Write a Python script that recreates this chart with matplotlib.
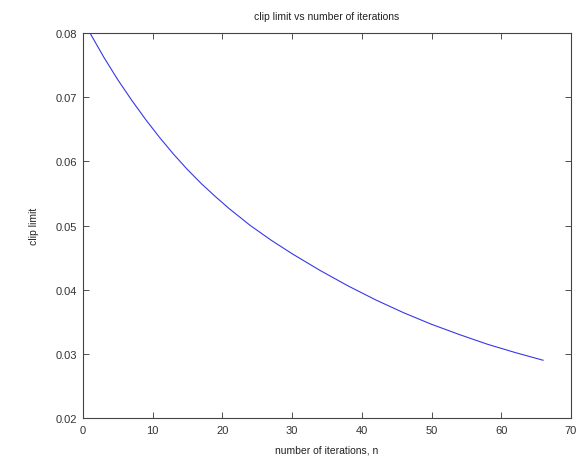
import matplotlib
matplotlib.use("Agg")
import matplotlib.pyplot as plt
from matplotlib.ticker import FormatStrFormatter

# clip limit at each iteration count
iterations = [1, 3, 5, 7, 9, 11, 13, 15, 17, 19, 21, 24, 27, 30, 34, 38, 42,
              46, 50, 54, 58, 62, 66]
clip_limit = [0.0800, 0.0762, 0.0727, 0.0695, 0.0665, 0.0637, 0.0611, 0.0587,
              0.0565, 0.0545, 0.0526, 0.0500, 0.0477, 0.0456, 0.0430, 0.0406,
              0.0384, 0.0364, 0.0346, 0.0330, 0.0315, 0.0302, 0.0290]

x_ticks = [0, 10, 20, 30, 40, 50, 60, 70]
y_ticks = [0.02, 0.03, 0.04, 0.05, 0.06, 0.07, 0.08]

plt.rcParams['font.family'] = ['Liberation Sans', 'DejaVu Sans']

fig = plt.figure(figsize=(5.85, 4.64), dpi=100)
ax = fig.add_axes([0.1419, 0.097, 0.976 - 0.1419, 0.9267 - 0.097])

ax.plot(iterations, clip_limit, color='#3838e8', linewidth=0.8)

ax.set_xlim(0, 70)
ax.set_ylim(0.02, 0.08)
ax.set_xticks(x_ticks)
ax.set_yticks(y_ticks)
ax.yaxis.set_major_formatter(FormatStrFormatter('%.2f'))

ax.tick_params(axis='both', direction='in', top=True, right=True, length=4,
               width=0.6, labelsize=8, colors='#333333')
ax.tick_params(axis='x', pad=5)
ax.tick_params(axis='y', pad=4)
for spine in ax.spines.values():
    spine.set_linewidth(0.8)
    spine.set_color('#444444')

ax.set_title('clip limit vs number of iterations', fontsize=7.5, pad=10, color='#222222')
ax.set_xlabel('number of iterations, n', fontsize=7.5, labelpad=7, color='#222222')
ax.set_ylabel('clip limit', fontsize=7.5, labelpad=12, color='#222222')

fig.savefig('out.png', dpi=100)
